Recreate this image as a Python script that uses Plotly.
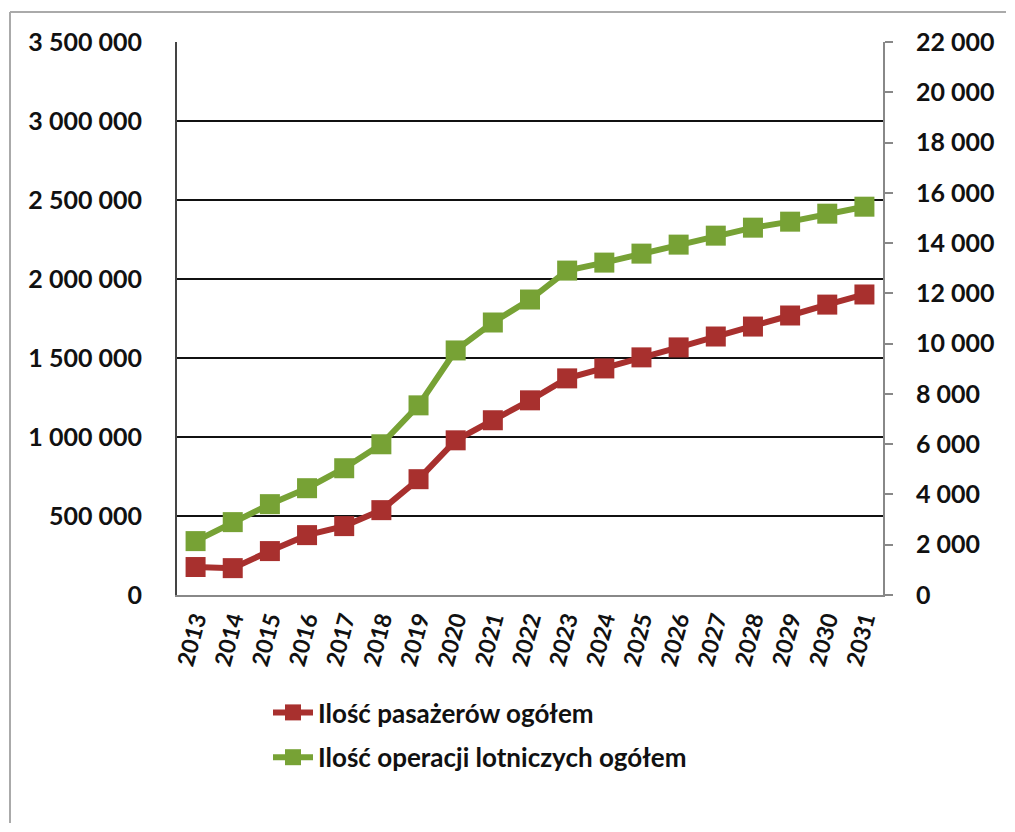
import plotly.graph_objects as go

years = [str(y) for y in range(2013, 2032)]
passengers = [177000, 170000, 278000, 379000, 436000, 537000, 733000, 979000, 1106000,
              1232000, 1371000, 1434000, 1504000, 1567000, 1636000, 1699000, 1769000,
              1838000, 1902000]
operations = [2144, 2899, 3614, 4249, 5043, 5996, 7545, 9729, 10841, 11755, 12906,
              13224, 13581, 13939, 14296, 14614, 14852, 15170, 15448]

name_pass = "Ilość pasażerów ogółem"
name_ops = "Ilość operacji lotniczych ogółem"

RED = "#A8302E"
GREEN = "#77A235"
FONT = "Lato"

fig = go.Figure()
fig.add_trace(go.Scatter(
    x=years, y=passengers, name=name_pass, mode="lines+markers",
    line=dict(color=RED, width=6),
    marker=dict(symbol="square", size=20, color=RED),
    legendgroup="a", yaxis="y"))
fig.add_trace(go.Scatter(
    x=years, y=operations, name=name_ops, mode="lines+markers",
    line=dict(color=GREEN, width=6),
    marker=dict(symbol="square", size=20, color=GREEN),
    legendgroup="b", yaxis="y2"))

OFF = 8  # default page body margin
W, H = 1015 - 2 * OFF, 832 - 2 * OFF
L, R, T, B = 177 - OFF, 883 - OFF, 42 - OFF, 595 - OFF
pw, ph = R - L, B - T

def px2x(px):
    return (px - OFF - L) / pw

def py2y(py):
    return (B - (py - OFF)) / ph

border = dict(color="#AAAAAA", width=2)

fig.update_layout(
    width=W, height=H,
    margin=dict(l=L, r=W - R, t=T, b=H - B, pad=0),
    paper_bgcolor="white", plot_bgcolor="white",
    separators=", ",
    font=dict(family=FONT, size=25, color="#111111", weight="bold"),
    showlegend=True,
    legend=dict(x=px2x(268), y=py2y(689), xanchor="left", yanchor="top",
                traceorder="grouped", tracegroupgap=8,
                font=dict(family=FONT, size=26, color="#111111", weight="bold"),
                bgcolor="rgba(0,0,0,0)", itemwidth=40),
    xaxis=dict(type="category", range=[-0.5, 18.5], showgrid=False,
               showline=True, linecolor="#888888", linewidth=2,
               ticks="", tickangle=-75,
               tickfont=dict(family=FONT, size=23, color="#111111", weight="bold")),
    yaxis=dict(range=[0, 3500000], dtick=500000, tickformat=",d",
               showgrid=True, gridcolor="#111111", gridwidth=2,
               zeroline=False, showline=True, linecolor="#444444", linewidth=2,
               ticks="", ticklabelstandoff=28,
               tickfont=dict(family=FONT, size=25, color="#111111", weight="bold")),
    yaxis2=dict(range=[0, 22000], dtick=2000, tickformat=",d", overlaying="y",
                side="right", showgrid=False, zeroline=False,
                showline=True, linecolor="#888888", linewidth=2,
                ticks="outside", ticklen=8, tickcolor="#888888", tickwidth=2,
                ticklabelstandoff=18,
                tickfont=dict(family=FONT, size=25, color="#111111", weight="bold")),
    shapes=[
        dict(type="line", xref="paper", yref="paper",
             x0=px2x(10), x1=px2x(1006), y0=py2y(12), y1=py2y(12),
             line=border, layer="below"),
        dict(type="line", xref="paper", yref="paper",
             x0=px2x(10), x1=px2x(10), y0=py2y(12), y1=py2y(823),
             line=border, layer="below"),
    ],
)

fig.write_html("out.html", config={"displayModeBar": False})
